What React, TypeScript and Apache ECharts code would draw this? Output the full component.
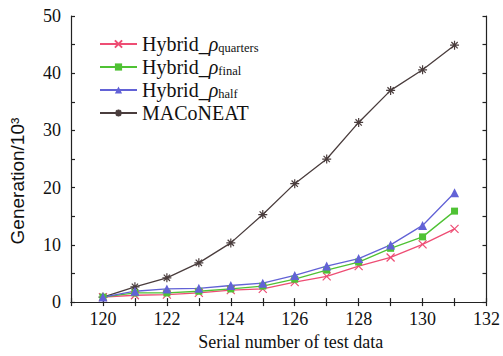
import React, { useEffect, useRef } from "react";
import * as echarts from "echarts";

const xValues = [120, 121, 122, 123, 124, 125, 126, 127, 128, 129, 130, 131];
const quarters = [0.87, 1.2, 1.3, 1.6, 2.1, 2.3, 3.5, 4.5, 6.3, 7.8, 10.1, 12.8];
const finalVals = [0.87, 1.6, 1.6, 1.9, 2.3, 2.8, 4.0, 5.6, 7.0, 9.4, 11.4, 15.9];
const half = [0.87, 1.9, 2.3, 2.4, 2.9, 3.3, 4.65, 6.3, 7.6, 10.0, 13.4, 19.1];
const maconeat = [0.87, 2.67, 4.24, 6.86, 10.35, 15.3, 20.7, 25.0, 31.4, 37.0, 40.6, 44.9];
const seriesNames = ["Hybrid_quarters", "Hybrid_final", "Hybrid_half", "MACoNEAT"];
const subscripts: Record<string, string> = {
  Hybrid_quarters: "quarters",
  Hybrid_final: "final",
  Hybrid_half: "half",
};

const SERIF = "'Liberation Serif', 'Times New Roman', serif";
const SANS = "'Liberation Sans', Arial, sans-serif";

const pair = (ys: number[]) => xValues.map((x, i) => [x, ys[i]]);

export default function App() {
  const ref = useRef<HTMLDivElement>(null);
  useEffect(() => {
    if (!ref.current) return;
    const chart = echarts.init(ref.current, null, { renderer: "svg" });
    const axisLine = { show: true, lineStyle: { color: "#222", width: 1.2 } };
    const tick = { show: true, inside: true, length: 4, lineStyle: { color: "#222", width: 1.2 } };
    const mk = (name: string, data: number[], color: string, symbol: string, size: number, stroke: boolean) => ({
      name,
      type: "line",
      data: pair(data),
      symbol,
      symbolSize: size,
      lineStyle: { color, width: 1.3 },
      itemStyle: stroke
        ? { color: "rgba(0,0,0,0)", borderColor: color, borderWidth: 1.2 }
        : { color, borderColor: color, borderWidth: 0 },
      z: name === "MACoNEAT" ? 1 : 2,
    });
    chart.setOption({
      animation: false,
      backgroundColor: "#fff",
      grid: { left: 69, right: 15, top: 16, bottom: 53, containLabel: false },
      legend: {
        orient: "vertical",
        left: 94,
        top: 29,
        itemWidth: 37,
        itemHeight: 9,
        itemGap: 3,
        data: seriesNames,
        formatter: (name: string) =>
          subscripts[name]
            ? `{a|Hybrid_}{r|ρ}{s|${subscripts[name]}}`
            : `{a|${name}}`,
        textStyle: {
          fontFamily: SERIF,
          fontSize: 20,
          color: "#111",
          rich: {
            a: { fontFamily: SERIF, fontSize: 20, color: "#111", lineHeight: 20 },
            r: { fontFamily: SERIF, fontSize: 20, fontStyle: "italic", color: "#111", lineHeight: 20 },
            s: { fontFamily: SERIF, fontSize: 12.5, color: "#111", lineHeight: 20, verticalAlign: "bottom", padding: [7, 0, 0, 0] },
          },
        },
      },
      xAxis: [
        {
          type: "value",
          min: 119,
          max: 132,
          interval: 1,
          name: "Serial number of test data",
          nameLocation: "middle",
          nameGap: 30,
          nameTextStyle: { fontFamily: SERIF, fontSize: 18, color: "#111", padding: [0, 0, 0, 24] },
          axisLine,
          axisTick: tick,
          splitLine: { show: false },
          axisLabel: {
            fontFamily: SERIF,
            fontSize: 18,
            color: "#111",
            margin: 8,
            formatter: (v: number) => (v % 2 === 0 ? String(v) : ""),
          },
        },
        {
          type: "value",
          position: "top",
          min: 119,
          max: 132,
          interval: 1,
          axisLine,
          axisTick: tick,
          splitLine: { show: false },
          axisLabel: { show: false },
        },
      ],
      yAxis: [
        {
          type: "value",
          min: 0,
          max: 50,
          interval: 5,
          name: "Generation/10³",
          nameLocation: "middle",
          nameGap: 44,
          nameRotate: 90,
          nameTextStyle: { fontFamily: SANS, fontSize: 19, color: "#111", padding: [0, 44, 0, 0] },
          axisLine,
          axisTick: tick,
          splitLine: { show: false },
          axisLabel: {
            fontFamily: SERIF,
            fontSize: 18,
            color: "#111",
            margin: 10,
            formatter: (v: number) => (v % 10 === 0 ? String(v) : ""),
          },
        },
        {
          type: "value",
          position: "right",
          min: 0,
          max: 50,
          interval: 5,
          axisLine,
          axisTick: tick,
          splitLine: { show: false },
          axisLabel: { show: false },
        },
      ],
      series: [
        mk("Hybrid_quarters", quarters, "#ee4d74", "path://M0,0L10,10M10,0L0,10", 8, true),
        mk("Hybrid_final", finalVals, "#4fc234", "rect", 7, false),
        mk("Hybrid_half", half, "#6262d6", "triangle", 9, false),
        mk("MACoNEAT", maconeat, "#4a3d3d", "path://M5,0L5,10M0,5L10,5M1.5,1.5L8.5,8.5M8.5,1.5L1.5,8.5", 9, true),
      ],
    });
    return () => chart.dispose();
  }, []);
  return <div ref={ref} style={{ width: 503, height: 356, position: "absolute", left: 0, top: 0 }} />;
}
